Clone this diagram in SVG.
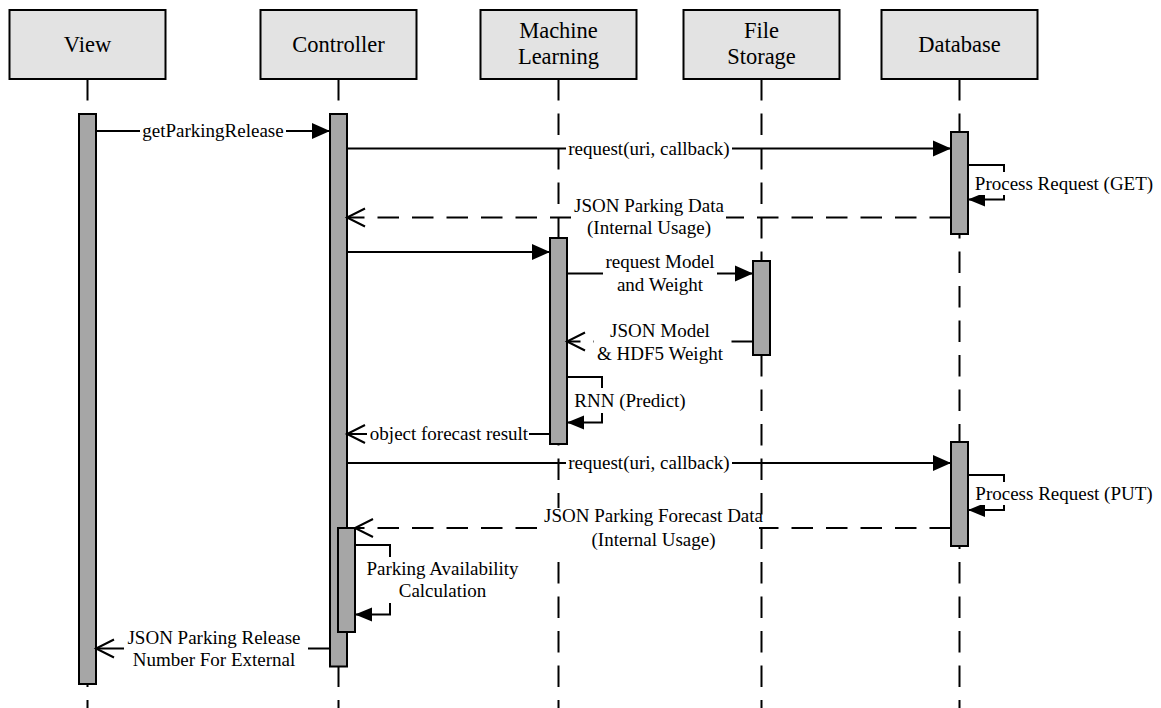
<svg xmlns="http://www.w3.org/2000/svg" width="1161" height="708" viewBox="0 0 1161 708">
<style>
.hdr{fill:#e3e3e3;stroke:#000;stroke-width:2}
.bar{fill:#a6a6a6;stroke:#000;stroke-width:2}
.life{stroke:#000;stroke-width:2;stroke-dasharray:21.5 13;fill:none}
.msg{stroke:#000;stroke-width:2;fill:none}
.ret{stroke-dasharray:21.5 13}
.bg{fill:#fff}
text{font-family:"Liberation Serif","Times New Roman",serif;fill:#000}
.t{font-size:19px;text-anchor:middle}
.h{font-size:22.5px;text-anchor:middle}
</style>
<defs>
<marker id="fa" markerUnits="userSpaceOnUse" markerWidth="18" markerHeight="16" refX="18" refY="8" orient="auto" overflow="visible"><path d="M0,0 L18,8 L0,16 z" fill="#000"/></marker>
<marker id="fs" markerUnits="userSpaceOnUse" markerWidth="17" markerHeight="14" refX="17" refY="7" orient="auto" overflow="visible"><path d="M0,0 L17,7 L0,14 z" fill="#000"/></marker>
<marker id="oa" markerUnits="userSpaceOnUse" markerWidth="20" markerHeight="20" refX="18" refY="9" orient="auto" overflow="visible"><path d="M0,0 L18,9 L0,18" fill="none" stroke="#000" stroke-width="2" stroke-dasharray="none"/></marker>
</defs>
<rect width="1161" height="708" fill="#fff"/>
<g id="view">
<rect class="hdr" x="9.5" y="10" width="156" height="69"/>
<text class="h" x="87.5" y="52">View</text>
<line class="life" x1="87.5" y1="79" x2="87.5" y2="708"/>
<rect class="bar" x="79" y="114" width="17" height="570"/>
</g>
<g id="controller">
<rect class="hdr" x="260.5" y="10" width="156" height="69"/>
<text class="h" x="338.5" y="52">Controller</text>
<line class="life" x1="338.5" y1="79" x2="338.5" y2="708"/>
<rect class="bar" x="330" y="114" width="17" height="552.5"/>
<rect class="bar" x="338" y="528" width="17" height="104"/>
</g>
<g id="machine-learning">
<rect class="hdr" x="480.5" y="10" width="156" height="69"/>
<text class="h" x="558.5" y="37.5">Machine</text>
<text class="h" x="558.5" y="63.5">Learning</text>
<line class="life" x1="558.5" y1="79" x2="558.5" y2="708"/>
<rect class="bar" x="550" y="238" width="17" height="206"/>
</g>
<g id="file-storage">
<rect class="hdr" x="683.5" y="10" width="156" height="69"/>
<text class="h" x="761.5" y="37.5">File</text>
<text class="h" x="761.5" y="63.5">Storage</text>
<line class="life" x1="761.5" y1="79" x2="761.5" y2="708"/>
<rect class="bar" x="753" y="261" width="17" height="94"/>
</g>
<g id="database">
<rect class="hdr" x="881.5" y="10" width="156" height="69"/>
<text class="h" x="959.5" y="52">Database</text>
<line class="life" x1="959.5" y1="79" x2="959.5" y2="708"/>
<rect class="bar" x="951" y="132" width="17" height="102"/>
<rect class="bar" x="951" y="442" width="17" height="104"/>
</g>
<g id="connectors">
<path class="msg" d="M96,131 H330" marker-end="url(#fa)"/>
<rect class="bg" x="140" y="121" width="146" height="20"/>
<text class="t" x="213" y="137">getParkingRelease</text>

<path class="msg" d="M347,148.5 H951" marker-end="url(#fa)"/>
<rect class="bg" x="566" y="139" width="166" height="20"/>
<text class="t" x="649" y="155">request(uri, callback)</text>

<path class="msg" d="M968,165 H1004 V199.5 H968" marker-end="url(#fs)"/>
<rect class="bg" x="973" y="172" width="182" height="23"/>
<text class="t" x="1064" y="189.5">Process Request (GET)</text>

<path class="msg ret" d="M951,217.5 H347" marker-end="url(#oa)"/>
<rect class="bg" x="571" y="196" width="155" height="44"/>
<text class="t" x="649" y="211.7">JSON Parking Data</text>
<text class="t" x="649" y="234">(Internal Usage)</text>

<path class="msg" d="M347,252 H550" marker-end="url(#fa)"/>

<path class="msg" d="M567,273.5 H753" marker-end="url(#fa)"/>
<rect class="bg" x="603" y="254" width="114" height="42"/>
<text class="t" x="660" y="268.3">request Model</text>
<text class="t" x="660" y="290.7">and Weight</text>

<path class="msg ret" d="M753,341.5 H567" marker-end="url(#oa)"/>
<rect class="bg" x="594" y="320" width="137" height="45"/>
<text class="t" x="660" y="337.3">JSON Model</text>
<text class="t" x="660" y="360">&amp; HDF5 Weight</text>

<path class="msg" d="M567,377 H602 V422.5 H567" marker-end="url(#fs)"/>
<rect class="bg" x="573" y="388" width="114" height="25"/>
<text class="t" x="630" y="406.7">RNN (Predict)</text>

<path class="msg" d="M550,434 H347" marker-end="url(#oa)"/>
<rect class="bg" x="367" y="424" width="162" height="20"/>
<text class="t" x="449" y="439.5">object forecast result</text>

<path class="msg" d="M347,463 H951" marker-end="url(#fa)"/>
<rect class="bg" x="566" y="453" width="166" height="20"/>
<text class="t" x="649" y="469">request(uri, callback)</text>

<path class="msg" d="M968,475 H1004 V510 H968" marker-end="url(#fs)"/>
<rect class="bg" x="973" y="482" width="182" height="23"/>
<text class="t" x="1064" y="500">Process Request (PUT)</text>

<path class="msg ret" d="M951,528 H355" marker-end="url(#oa)"/>
<rect class="bg" x="541" y="508" width="218" height="42"/>
<text class="t" x="653.5" y="522.3">JSON Parking Forecast Data</text>
<text class="t" x="653.5" y="546">(Internal Usage)</text>

<path class="msg" d="M355,545 H390 V614.5 H355" marker-end="url(#fs)"/>
<rect class="bg" x="363" y="557" width="160" height="46"/>
<text class="t" x="442.5" y="575">Parking Availability</text>
<text class="t" x="442.5" y="597.3">Calculation</text>

<path class="msg" d="M330,648.5 H96" marker-end="url(#oa)"/>
<rect class="bg" x="124" y="627" width="184" height="44"/>
<text class="t" x="214" y="644">JSON Parking Release</text>
<text class="t" x="214" y="666">Number For External</text>
</g>
</svg>
